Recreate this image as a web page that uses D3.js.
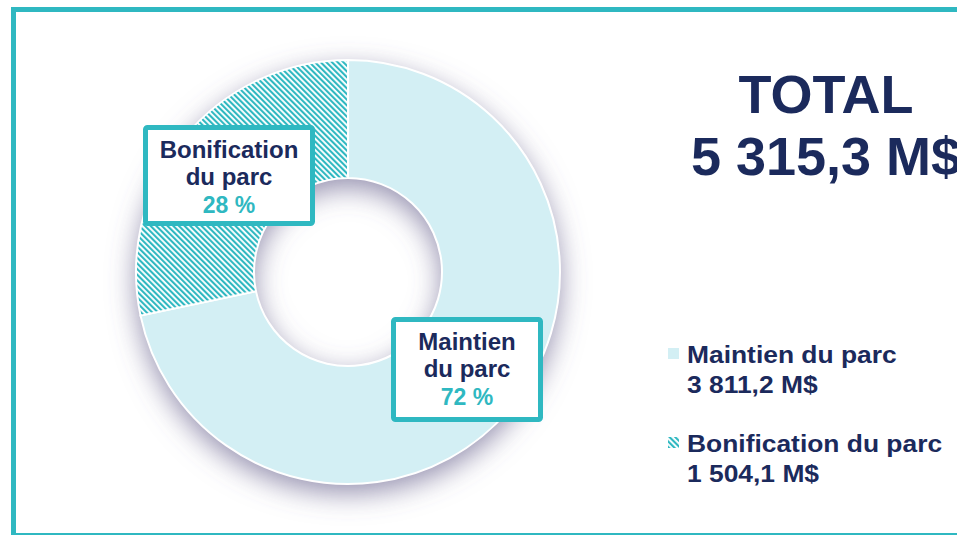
<!DOCTYPE html>
<html>
<head>
<meta charset="utf-8">
<script src="https://cdn.jsdelivr.net/npm/d3@7"></script>
<style>
  html, body { margin: 0; padding: 0; background: #fff; }
  svg { display: block; font-family: "Liberation Sans", Arial, sans-serif; font-weight: bold; }
</style>
</head>
<body>
<svg id="chart" width="957" height="535"></svg>
<script>
// data
let categories = ["Maintien du parc", "Bonification du parc"];
let labelLines = [["Maintien", "du parc"], ["Bonification", "du parc"]];
let values = [3811.2, 1504.1];
let percents = ["72 %", "28 %"];
let amounts = ["3 811,2 M$", "1 504,1 M$"];
let totalLines = ["TOTAL", "5 315,3 M$"];

let navy = "#1b2a5c";
let teal = "#2fb8c1";
let light = "#d3eff4";

let chart = d3.select("#chart");

let defs = chart.append("defs");

// hatch pattern
let pat = defs.append("pattern")
    .attr("id", "hatch")
    .attr("patternUnits", "userSpaceOnUse")
    .attr("width", 4)
    .attr("height", 4)
    .attr("patternTransform", "rotate(-45)");
pat.append("rect").attr("width", 4).attr("height", 4).attr("fill", "#fff");
pat.append("rect").attr("width", 2.1).attr("height", 4).attr("fill", teal);

// soft shadow under the donut
let filt = defs.append("filter")
    .attr("id", "shadow")
    .attr("x", "-40%").attr("y", "-40%")
    .attr("width", "180%").attr("height", "180%");
filt.append("feDropShadow")
    .attr("dx", 0).attr("dy", 9)
    .attr("stdDeviation", 14)
    .attr("flood-color", "#66618c")
    .attr("flood-opacity", 0.7);

// frame
chart.append("rect")
    .attr("x", 13.5).attr("y", 9.5)
    .attr("width", 1000).attr("height", 526)
    .attr("fill", "none")
    .attr("stroke", teal)
    .attr("stroke-width", 5);

// donut
let cx = 348, cy = 272;
let outerR = 212, innerR = 94;

let pie = d3.pie().sort(null).value(function(d) { return d; });
let arcs = pie(values);
let arc = d3.arc().innerRadius(innerR).outerRadius(outerR);
let fills = [light, "url(#hatch)"];

let donut = chart.append("g")
    .attr("transform", "translate(" + cx + "," + cy + ")");

donut.append("g")
    .attr("filter", "url(#shadow)")
    .selectAll("path")
    .data(arcs)
    .enter()
    .append("path")
    .attr("d", arc)
    .attr("fill", "#fff");

donut.selectAll("path.slice")
    .data(arcs)
    .enter()
    .append("path")
    .attr("class", "slice")
    .attr("d", arc)
    .attr("fill", function(d, i) { return fills[i]; })
    .attr("stroke", "#fff")
    .attr("stroke-width", 2);

// label boxes
let boxes = [
    { x: 391, y: 317, w: 152, h: 105 },
    { x: 143, y: 125, w: 172, h: 101 }
];
let box = chart.selectAll("g.lbl")
    .data(boxes)
    .enter()
    .append("g")
    .attr("class", "lbl");

box.append("rect")
    .attr("x", function(d) { return d.x + 2.5; })
    .attr("y", function(d) { return d.y + 2.5; })
    .attr("width", function(d) { return d.w - 5; })
    .attr("height", function(d) { return d.h - 5; })
    .attr("rx", 2)
    .attr("fill", "#fff")
    .attr("stroke", teal)
    .attr("stroke-width", 5);

box.each(function(d, i) {
    let g = d3.select(this);
    let mx = d.x + d.w / 2;
    let by = d.y + 33;
    labelLines[i].forEach(function(t, k) {
        g.append("text")
            .attr("x", mx)
            .attr("y", by + k * 27)
            .attr("text-anchor", "middle")
            .style("font-size", "24px")
            .style("fill", navy)
            .text(t);
    });
    g.append("text")
        .attr("x", mx)
        .attr("y", by + 55)
        .attr("text-anchor", "middle")
        .style("font-size", "23px")
        .style("fill", teal)
        .text(percents[i]);
});

// total
chart.selectAll("text.total")
    .data(totalLines)
    .enter()
    .append("text")
    .attr("class", "total")
    .attr("x", 826)
    .attr("y", function(d, i) { return 113 + i * 62; })
    .attr("text-anchor", "middle")
    .style("font-size", "54px")
    .style("fill", navy)
    .text(function(d) { return d; });

// legend
let legend = chart.selectAll("g.legend")
    .data(categories)
    .enter()
    .append("g")
    .attr("class", "legend")
    .attr("transform", function(d, i) { return "translate(668," + (348 + i * 89) + ")"; });

legend.append("rect")
    .attr("width", 11)
    .attr("height", 11)
    .attr("fill", function(d, i) { return fills[i]; });

// legend text is a bit wider than plain Arial in the original
legend.append("text")
    .attr("transform", "translate(19,15) scale(1.1,1)")
    .style("font-size", "24px")
    .style("fill", navy)
    .text(function(d) { return d; });

legend.append("text")
    .attr("transform", "translate(19,45) scale(1.1,1)")
    .style("font-size", "24px")
    .style("fill", navy)
    .text(function(d, i) { return amounts[i]; });
</script>
</body>
</html>
